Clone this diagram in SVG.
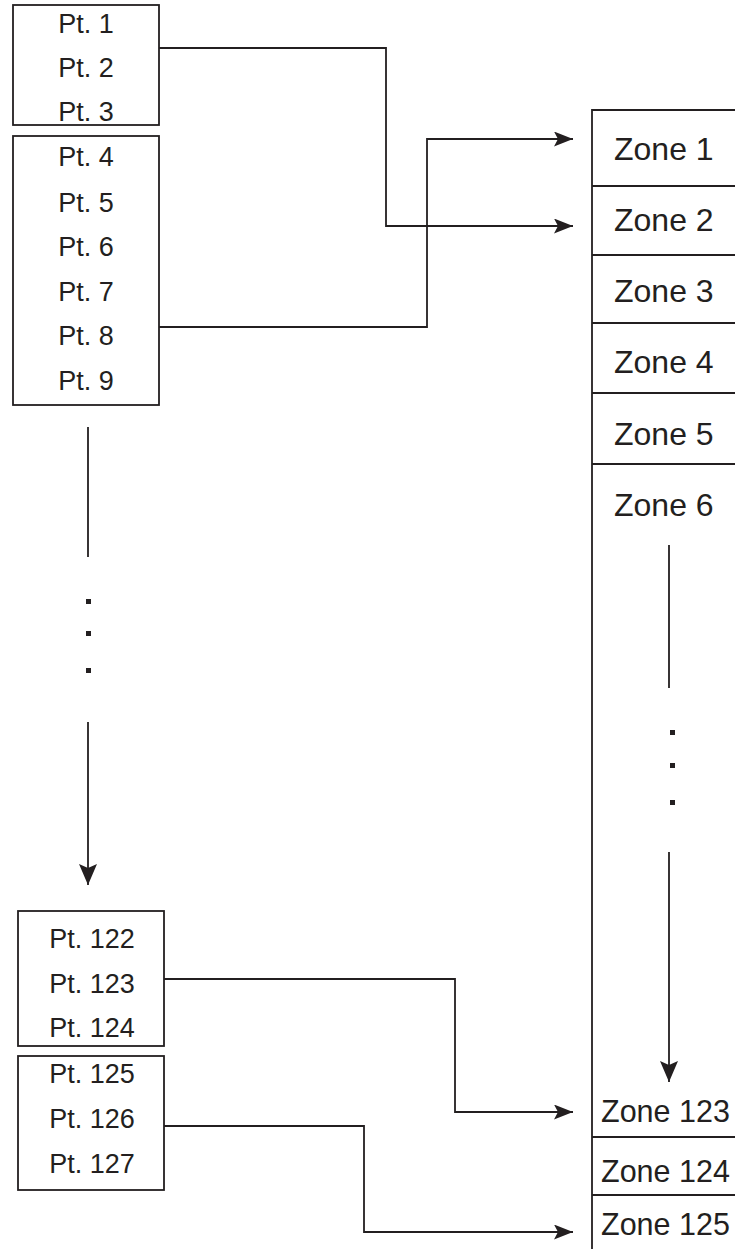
<svg xmlns="http://www.w3.org/2000/svg" width="735" height="1249" viewBox="0 0 735 1249">
<style>
.box{fill:#fff;stroke:#231f20;stroke-width:1.8}
.ln{fill:none;stroke:#231f20;stroke-width:1.8}
.pt{font-family:"Liberation Sans",Arial,sans-serif;font-size:27px;fill:#231f20;text-anchor:middle}
.zn{font-family:"Liberation Sans",Arial,sans-serif;font-size:32px;fill:#231f20}
.zs{font-size:30.5px}
.dot{fill:#231f20}
</style>
<defs>
<marker id="ah" viewBox="0 0 19 15" refX="19" refY="7.5" markerWidth="19" markerHeight="15" markerUnits="userSpaceOnUse" orient="auto">
<path d="M0,0 L19,7.5 L0,15 L4,7.5 Z" fill="#231f20"/>
</marker>
<marker id="ahd" viewBox="0 0 21 18" refX="21" refY="9" markerWidth="21" markerHeight="18" markerUnits="userSpaceOnUse" orient="auto">
<path d="M0,0 L21,9 L0,18 L4,9 Z" fill="#231f20"/>
</marker>
</defs>
<g id="pts1-3">
<rect class="box" x="13" y="5" width="146" height="120"/>
<text class="pt" x="86" y="33">Pt. 1</text>
<text class="pt" x="86" y="77">Pt. 2</text>
<text class="pt" x="86" y="121">Pt. 3</text>
</g>
<g id="pts4-9">
<rect class="box" x="13" y="136" width="146" height="269"/>
<text class="pt" x="86" y="166">Pt. 4</text>
<text class="pt" x="86" y="212">Pt. 5</text>
<text class="pt" x="86" y="256">Pt. 6</text>
<text class="pt" x="86" y="301">Pt. 7</text>
<text class="pt" x="86" y="345">Pt. 8</text>
<text class="pt" x="86" y="390">Pt. 9</text>
</g>
<g id="pts122-124">
<rect class="box" x="18" y="911" width="146" height="135"/>
<text class="pt" x="92" y="948">Pt. 122</text>
<text class="pt" x="92" y="993">Pt. 123</text>
<text class="pt" x="92" y="1037">Pt. 124</text>
</g>
<g id="pts125-127">
<rect class="box" x="18" y="1056" width="146" height="134"/>
<text class="pt" x="92" y="1083">Pt. 125</text>
<text class="pt" x="92" y="1128">Pt. 126</text>
<text class="pt" x="92" y="1173">Pt. 127</text>
</g>
<g id="zones">
<path class="ln" d="M736,110 H592 V1249"/>
<path class="ln" d="M592,186 H736 M592,255 H736 M592,323 H736 M592,393 H736 M592,464 H736 M592,1137 H736 M592,1195 H736"/>
<text class="zn" x="614" y="160">Zone 1</text>
<text class="zn" x="614" y="231">Zone 2</text>
<text class="zn" x="614" y="302">Zone 3</text>
<text class="zn" x="614" y="373">Zone 4</text>
<text class="zn" x="614" y="445">Zone 5</text>
<text class="zn" x="614" y="516">Zone 6</text>
<text class="zn zs" x="601" y="1122">Zone 123</text>
<text class="zn zs" x="601" y="1182">Zone 124</text>
<text class="zn zs" x="601" y="1235">Zone 125</text>
</g>
<g id="connectors">
<path class="ln" d="M159,48 H386 V226 H573" marker-end="url(#ah)"/>
<path class="ln" d="M159,327 H427 V139 H573" marker-end="url(#ah)"/>
<path class="ln" d="M164,979 H455 V1112 H573" marker-end="url(#ah)"/>
<path class="ln" d="M164,1126 H364 V1232 H573" marker-end="url(#ah)"/>
<path class="ln" d="M88,427 V557"/>
<path class="ln" d="M88,722 V885" marker-end="url(#ahd)"/>
<path class="ln" d="M669,545 V688"/>
<path class="ln" d="M669,852 V1082" marker-end="url(#ahd)"/>
</g>
<g id="ellipses">
<rect class="dot" x="86" y="599" width="5" height="5"/>
<rect class="dot" x="86" y="631" width="5" height="5"/>
<rect class="dot" x="86" y="668" width="5" height="5"/>
<rect class="dot" x="670" y="730" width="5" height="5"/>
<rect class="dot" x="670" y="763" width="5" height="5"/>
<rect class="dot" x="670" y="800" width="5" height="5"/>
</g>
</svg>
